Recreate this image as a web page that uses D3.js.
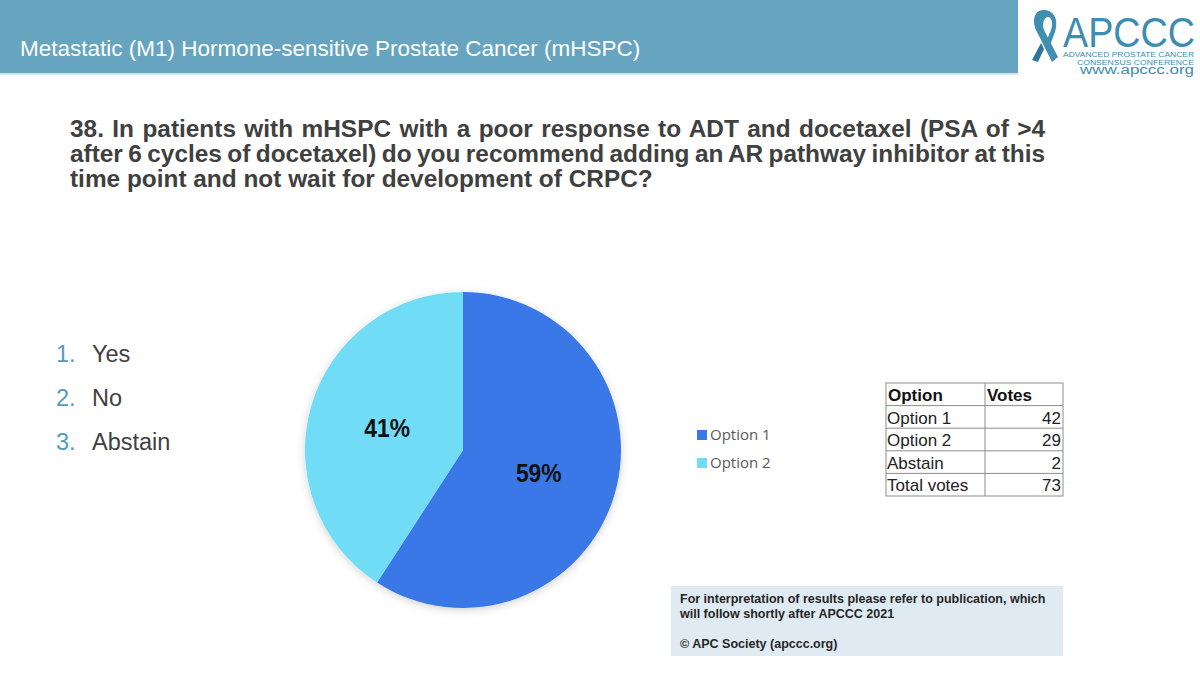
<!DOCTYPE html>
<html>
<head>
<meta charset="utf-8">
<script src="https://cdn.jsdelivr.net/npm/d3@7"></script>
<style>
  body { margin: 0; background: #fff; }
  svg { display: block; font-family: "Liberation Sans", Arial, sans-serif; }
</style>
</head>
<body>
<div id="chart"></div>
<script>
// data
const options = ["Option 1", "Option 2"];
const votes = [42, 29];
const tableRows = ["Option 1", "Option 2", "Abstain", "Total votes"];
const tableVotes = [42, 29, 2, 73];
const answers = ["Yes", "No", "Abstain"];
const questionLines = [
  "38. In patients with mHSPC with a poor response to ADT and docetaxel (PSA of >4",
  "after 6 cycles of docetaxel) do you recommend adding an AR pathway inhibitor at this",
  "time point and not wait for development of CRPC?"
];
const colors = ["#3b78e7", "#6fdcf6"];

const width = 1200, height = 675;
const svg = d3.select("#chart").append("svg")
  .attr("width", width)
  .attr("height", height)
  .attr("viewBox", [0, 0, width, height]);

// header band
svg.append("rect").attr("x", 0).attr("y", 0).attr("width", 1018).attr("height", 73).attr("fill", "#66a4c0");
svg.append("rect").attr("x", 0).attr("y", 73).attr("width", 1018).attr("height", 2).attr("fill", "#cfe6ef");
svg.append("text")
  .attr("x", 20).attr("y", 56)
  .attr("fill", "#fff")
  .attr("font-size", 22.5)
  .text("Metastatic (M1) Hormone-sensitive Prostate Cancer (mHSPC)");

// logo
const logo = svg.append("g").attr("fill", "#3d8db0");
logo.append("path")
  .attr("d", "M1044,10 C1034,10 1032,20 1036,30 L1052,62 L1058,57 L1044,30 C1042,24 1044,17 1048,17 C1052,17 1053,24 1051,30 L1046,42 L1049,48 L1055,32 C1059,20 1054,10 1044,10 Z")
  .attr("fill", "#3f8fb3");
logo.append("path")
  .attr("d", "M1041,43 L1032,60 L1038,62 L1044,49 Z")
  .attr("fill", "#2f7699");
logo.append("text").attr("x", 1063).attr("y", 47).attr("font-size", 42).attr("textLength", 132).attr("lengthAdjust", "spacingAndGlyphs").text("APCCC");
logo.append("text").attr("x", 1063).attr("y", 56.5).attr("font-size", 7.5).attr("textLength", 131).attr("lengthAdjust", "spacingAndGlyphs").text("ADVANCED PROSTATE CANCER");
logo.append("text").attr("x", 1077).attr("y", 64.5).attr("font-size", 7.5).attr("textLength", 117).attr("lengthAdjust", "spacingAndGlyphs").text("CONSENSUS CONFERENCE");
logo.append("text").attr("x", 1080).attr("y", 74).attr("font-size", 12).attr("textLength", 114).attr("lengthAdjust", "spacingAndGlyphs").text("www.apccc.org");

// question, justified
const qx0 = 70, qx1 = 1045;
questionLines.forEach((line, i) => {
  const t = svg.append("text")
    .attr("x", qx0).attr("y", 137 + i * 25)
    .attr("font-size", 24.4)
    .attr("font-weight", "bold")
    .attr("fill", "#404040")
    .text(line);
  if (i < questionLines.length - 1) {
    const w = t.node().getComputedTextLength();
    const spaces = line.split(" ").length - 1;
    t.attr("word-spacing", (qx1 - qx0 - w) / spaces);
  }
});

// answers list
answers.forEach((a, i) => {
  const y = 362 + i * 44;
  svg.append("text").attr("x", 56).attr("y", y).attr("font-size", 23.5).attr("fill", "#4f9cc0").text((i + 1) + ".");
  svg.append("text").attr("x", 92).attr("y", y).attr("font-size", 23.5).attr("fill", "#404040").text(a);
});

// pie
const cx = 463, cy = 450, r = 158;
const defs = svg.append("defs");
const f = defs.append("filter").attr("id", "shadow").attr("x", "-20%").attr("y", "-20%").attr("width", "140%").attr("height", "140%");
f.append("feDropShadow").attr("dx", 0).attr("dy", 2).attr("stdDeviation", 4).attr("flood-color", "#000").attr("flood-opacity", 0.18);

const pie = d3.pie().sort(null).value(d => d)(votes);
const arc = d3.arc().innerRadius(0).outerRadius(r);
const labelArc = d3.arc().innerRadius(r * 0.5).outerRadius(r * 0.5);
const color = d3.scaleOrdinal().domain(d3.range(votes.length)).range(colors);
const total = d3.sum(votes);

const pg = svg.append("g").attr("transform", `translate(${cx},${cy})`);
pg.append("g").attr("filter", "url(#shadow)")
  .selectAll("path").data(pie).join("path")
  .attr("d", arc)
  .attr("fill", (d, i) => color(i));

pg.selectAll("text.lbl").data(pie).join("text")
  .attr("class", "lbl")
  .attr("text-anchor", "middle")
  .attr("dy", "0.35em")
  .attr("font-size", 26)
  .attr("font-weight", "bold")
  .attr("fill", "#111")
  .attr("transform", d => {
    const [x, y] = labelArc.centroid(d);
    return `translate(${x},${y}) scale(0.88,1)`;
  })
  .text(d => Math.round(d.value / total * 100) + "%");

// legend
const legend = svg.append("g").attr("font-family", "'Open Sans', 'Noto Sans', sans-serif");
options.forEach((o, i) => {
  const y = 435 + i * 28;
  legend.append("rect").attr("x", 697).attr("y", y - 5).attr("width", 10).attr("height", 10).attr("fill", colors[i]);
  legend.append("text").attr("x", 710).attr("y", y).attr("dy", "0.35em").attr("font-size", 15).attr("fill", "#595959").text(o);
});

// table
const tx0 = 886, tx1 = 1063, tcol = 985, ty0 = 383, rowH = 22.6;
const tg = svg.append("g");
const nRows = tableRows.length + 1;
tg.append("rect").attr("x", tx0).attr("y", ty0).attr("width", tx1 - tx0).attr("height", rowH * nRows)
  .attr("fill", "#fff").attr("stroke", "#8c8c8c").attr("stroke-width", 1);
for (let k = 1; k < nRows; k++) {
  tg.append("line").attr("x1", tx0).attr("x2", tx1).attr("y1", ty0 + k * rowH).attr("y2", ty0 + k * rowH).attr("stroke", "#8c8c8c");
}
tg.append("line").attr("x1", tcol).attr("x2", tcol).attr("y1", ty0).attr("y2", ty0 + rowH * nRows).attr("stroke", "#8c8c8c");
tg.append("text").attr("x", tx0 + 2).attr("y", ty0 + 18).attr("font-size", 17).attr("font-weight", "bold").attr("fill", "#111").text("Option");
tg.append("text").attr("x", tcol + 2).attr("y", ty0 + 18).attr("font-size", 17).attr("font-weight", "bold").attr("fill", "#111").text("Votes");
tableRows.forEach((row, i) => {
  const y = ty0 + (i + 1) * rowH + 18;
  tg.append("text").attr("x", tx0 + 1).attr("y", y).attr("font-size", 17).attr("fill", "#222").text(row);
  tg.append("text").attr("x", tx1 - 2).attr("y", y).attr("text-anchor", "end").attr("font-size", 17).attr("fill", "#222").text(tableVotes[i]);
});

// footnote box
const fb = svg.append("g");
fb.append("rect").attr("x", 671).attr("y", 586).attr("width", 392).attr("height", 70).attr("fill", "#dfeaf2");
const notes = [
  ["For interpretation of results please refer to publication, which", 603],
  ["will follow shortly after APCCC 2021", 618],
  ["\u00A9 APC Society (apccc.org)", 648]
];
notes.forEach(([t, y]) => {
  fb.append("text").attr("x", 680).attr("y", y).attr("font-size", 12.5).attr("font-weight", "bold").attr("fill", "#262626").text(t);
});
</script>
</body>
</html>
